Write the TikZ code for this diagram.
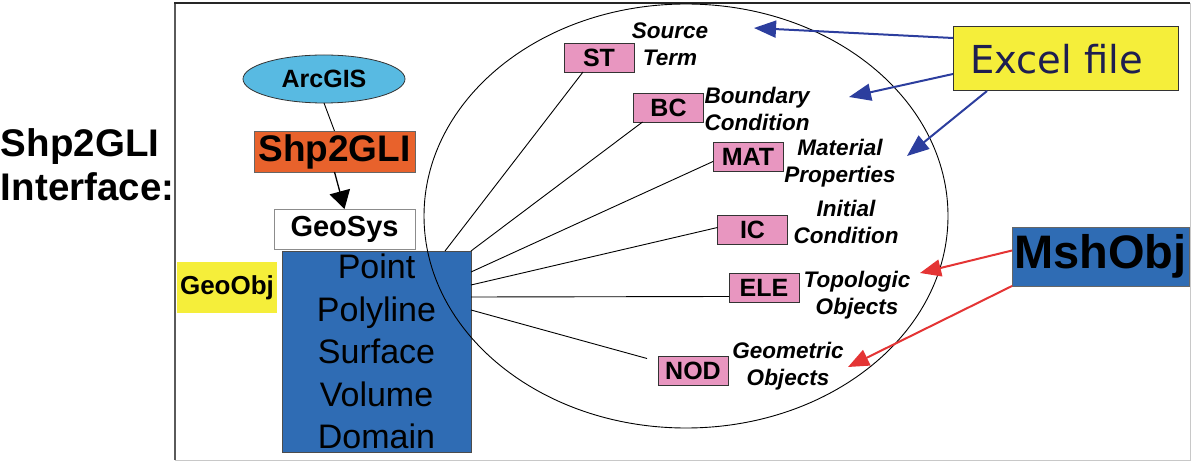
\documentclass[tikz,border=0pt]{standalone}
\usepackage{fontspec}
\setmainfont{Liberation Sans}
\newfontfamily\verdanalike{DejaVu Sans}
\usetikzlibrary{shapes.geometric,arrows.meta,calc}

\definecolor{geoblue}{RGB}{47,108,180}
\definecolor{arcblue}{RGB}{88,186,226}
\definecolor{shporange}{RGB}{232,98,44}
\definecolor{pinkbox}{RGB}{232,150,192}
\definecolor{yellowbox}{RGB}{245,238,58}
\definecolor{navyarrow}{RGB}{44,62,158}
\definecolor{redarrow}{RGB}{228,52,52}
\definecolor{navytext}{RGB}{30,30,80}
\definecolor{framegray}{RGB}{90,90,90}
\definecolor{lightframe}{RGB}{200,200,200}

\newcommand{\fsz}[2]{\fontsize{#1}{#2}\selectfont}

\begin{document}
\begin{tikzpicture}[x=1pt,y=-1pt,
  every node/.style={inner sep=0pt, outer sep=0pt, text=black},
  tagbox/.style={rectangle, draw=black!80, fill=pinkbox, line width=0.8pt,
    minimum width=70pt, minimum height=29pt, font=\fsz{25}{27}\bfseries},
  tagtext/.style={align=center, font=\fsz{22.5}{27.5}\bfseries\itshape},
  link/.style={draw=black, line width=0.9pt},
  bluearrow/.style={draw=navyarrow, fill=navyarrow, line width=2pt,
    -{Triangle[length=22pt,width=17pt]}},
  redarrow/.style={draw=redarrow, fill=redarrow, line width=2pt,
    -{Triangle[length=21pt,width=17pt]}}
]
\useasboundingbox (0,0) rectangle (1193,462);

% frame of the interface panel
\draw[framegray, line width=1.6pt] (175,460) -- (175,3);
\draw[black!85, line width=1.6pt] (174.2,3) -- (1190,3);
\draw[lightframe, line width=1pt] (1190,3) -- (1190,460) -- (175,460);

% title on the left
\node[anchor=west, font=\fsz{38.5}{40}\bfseries] (title1) at (1,147) {Shp2GLI};
\node[anchor=west, font=\fsz{38.5}{40}\bfseries] (title2) at (1,187) {Interface:};

% GIS chain
\node[ellipse, draw=black!80, fill=arcblue, line width=0.8pt,
  minimum width=162pt, minimum height=48pt, font=\fsz{25}{27}\bfseries]
  (arc) at (324,79) {ArcGIS};
\node[rectangle, draw=black!60, fill=shporange, line width=0.6pt,
  minimum width=161pt, minimum height=41pt, font=\fsz{37}{39}\bfseries]
  (shp) at (334.5,151.5) {Shp2GLI};
\node[rectangle, draw=black!45, fill=white, line width=0.8pt,
  minimum width=141pt, minimum height=40pt, font=\fsz{29}{31}\bfseries]
  (geosys) at (344.5,229) {GeoSys};
\draw[link] (arc.south) -- (shp.north);
\draw[black, fill=black, line width=1.3pt, -{Triangle[length=18pt,width=21pt]}]
  (shp.south) -- (geosys.north);

% geometric objects
\node[rectangle, fill=yellowbox, minimum width=100pt, minimum height=51pt,
  font=\fsz{26}{28}\bfseries] (geoobj) at (227,287.5) {GeoObj};
\node[rectangle, draw=black!70, fill=geoblue, line width=0.6pt,
  minimum width=189pt, minimum height=201pt, align=center,
  font=\fsz{34}{42.5}] (geo) at (376.5,351.5)
  {Point\\Polyline\\Surface\\Volume\\Domain};

% model data domain
\node[ellipse, draw=black, line width=0.9pt,
  minimum width=524pt, minimum height=424pt] (domain) at (686,216) {};

% data tags
\node[tagbox] (st)  at (599,57.5)   {ST};
\node[tagbox] (bc)  at (668.5,107.5) {BC};
\node[tagbox] (mat) at (748,156.5)  {MAT};
\node[tagbox] (ic)  at (752.5,229.5) {IC};
\node[tagbox] (ele) at (764,288)    {ELE};
\node[tagbox] (nod) at (693,371)    {NOD};

\node[tagtext] (lst)  at (670,44.5)  {Source\\Term};
\node[tagtext] (lbc)  at (757,109)   {Boundary\\Condition};
\node[tagtext] (lmat) at (840,163)   {Material\\Properties};
\node[tagtext] (lic)  at (846,222)   {Initial\\Condition};
\node[tagtext] (lele) at (857,295)   {Topologic\\Objects};
\node[tagtext] (lnod) at (788,366)   {Geometric\\Objects};

% links from the geometry block to the tags
\draw[link] ($(geo.north west)+(163,0)$) -- ($(st.south west)+(19,0)$);
\draw[link] (geo.north east) -- ($(bc.south west)+(9,0)$);
\draw[link] ($(geo.north east)+(0,21)$) -- ($(mat.west)+(0,5)$);
\draw[link] ($(geo.north east)+(0,34)$) -- ($(ic.west)+(0,-2)$);
\draw[link] ($(geo.north east)+(0,46)$) -- ($(ele.south west)+(0,-6)$);
\draw[link] ($(geo.north east)+(0,59)$) -- ($(nod.north west)+(-11,2)$);

% external sources
\node[rectangle, draw=black!80, fill=yellowbox, line width=1pt,
  minimum width=225pt, minimum height=64pt] (excel) at (1065.5,59) {};
\node[font=\verdanalike\fsz{38.5}{40}, text=navytext]
  (exceltext) at ($(excel.center)+(-9,0)$) {Excel file};
\node[rectangle, draw=black!60, fill=geoblue, line width=0.6pt,
  minimum width=177pt, minimum height=59pt, font=\fsz{47}{49}\bfseries]
  (msh) at (1100.5,256.5) {MshObj};

\coordinate (tipsrc) at (754,28);
\coordinate (tipbc)  at (849,97);
\coordinate (tipmat) at (907,156);
\coordinate (tipele) at (920,273);
\coordinate (tipnod) at (848,367);

\draw[bluearrow] ($(excel.west)+(0,-21)$) -- (tipsrc);
\draw[bluearrow] ($(excel.west)+(0,15)$) -- (tipbc);
\draw[bluearrow] ($(excel.south west)+(34,0)$) -- (tipmat);
\draw[redarrow] ($(msh.west)+(0,-6)$) -- (tipele);
\draw[redarrow] (msh.south west) -- (tipnod);
\end{tikzpicture}
\end{document}
